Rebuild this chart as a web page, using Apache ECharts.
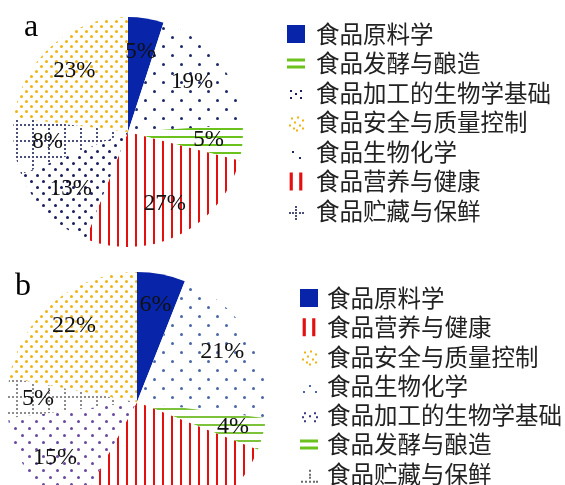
<!DOCTYPE html>
<html><head><meta charset="utf-8">
<script src="https://cdn.jsdelivr.net/npm/echarts@6/dist/echarts.min.js"></script>
<style>html,body{margin:0;padding:0;background:#fff}#c{width:565px;height:485px}</style>
</head><body><div id="c"></div>
<script>
// ---- data ----
const categories = ['食品原料学','食品生物化学','食品发酵与酿造','食品营养与健康','食品加工的生物学基础','食品贮藏与保鲜','食品安全与质量控制'];
const valuesA = [5, 19, 5, 27, 13, 8, 23];
const valuesB = [6, 21, 4, 27, 15, 5, 22];
const legendOrderA = ['食品原料学','食品发酵与酿造','食品加工的生物学基础','食品安全与质量控制','食品生物化学','食品营养与健康','食品贮藏与保鲜'];
const legendOrderB = ['食品原料学','食品营养与健康','食品安全与质量控制','食品生物化学','食品加工的生物学基础','食品发酵与酿造','食品贮藏与保鲜'];
const panelLabels = ['a', 'b'];

// ---- styles ----
function dots(color, P, Q, s) {
  s = s || 3;
  return {symbol: 'circle', symbolSize: 1, symbolKeepAspect: false, color: color,
    dashArrayX: [[s, P - s], [0, P / 2, s, P / 2 - s]], dashArrayY: [s, Q - s]};
}
function hStripes(color) {
  return {symbol: 'rect', symbolSize: 1, symbolKeepAspect: false, color: color, dashArrayX: [1, 0], dashArrayY: [2, 6]};
}
function vStripes(color) {
  return {symbol: 'rect', symbolSize: 1, symbolKeepAspect: false, color: color, dashArrayX: [2, 7], dashArrayY: [1, 0]};
}
function grid(color) {
  return {symbol: 'rect', symbolSize: 1, symbolKeepAspect: false, color: color,
    dashArrayX: [[2, 2], [2, 14], [2, 14], [2, 14]], dashArrayY: [2, 2]};
}
const BLUE = '#0824a8', GREEN = '#6cc21c', RED = '#e41010', YELLOW = '#f0b410';
const styleA = {
  '食品原料学': {color: BLUE},
  '食品生物化学': {color: '#fff', decal: dots('#1c2a6a', 18, 9)},
  '食品发酵与酿造': {color: '#fff', decal: hStripes(GREEN)},
  '食品营养与健康': {color: '#fff', decal: vStripes(RED)},
  '食品加工的生物学基础': {color: '#fff', decal: dots('#1a1e5c', 12, 6)},
  '食品贮藏与保鲜': {color: '#fff', decal: grid('#4a4e78')},
  '食品安全与质量控制': {color: '#fff', decal: dots(YELLOW, 10, 5)}
};
const styleB = {
  '食品原料学': {color: BLUE},
  '食品生物化学': {color: '#fff', decal: dots('#4a68a8', 18, 9)},
  '食品发酵与酿造': {color: '#fff', decal: hStripes('#7cc23a')},
  '食品营养与健康': {color: '#fff', decal: vStripes(RED)},
  '食品加工的生物学基础': {color: '#fff', decal: dots('#6a48a0', 14, 7)},
  '食品贮藏与保鲜': {color: '#fff', decal: grid('#8c8c8c')},
  '食品安全与质量控制': {color: '#fff', decal: dots(YELLOW, 10, 5)}
};
function dotPath(pts) {
  return 'path://M0,0M18,18' + pts.map(p => 'M' + p[0] + ',' + p[1] + 'h2v2h-2z').join('');
}
const iconA = {
  '食品原料学': {icon: 'rect', color: BLUE},
  '食品发酵与酿造': {icon: 'path://M0,4H18V7H0ZM0,11H18V14H0Z', color: GREEN},
  '食品加工的生物学基础': {icon: dotPath([[3,6],[13,6],[8,9],[3,13],[13,13]]), color: '#1a1e5c'},
  '食品安全与质量控制': {icon: dotPath([[4,4],[10,3],[15,6],[7,8],[2,11],[12,11],[6,14],[15,14],[9,16]]), color: YELLOW},
  '食品生物化学': {icon: dotPath([[5,8],[12,14]]), color: '#1c2a6a'},
  '食品营养与健康': {icon: 'path://M3,0H6V17H3ZM12,0H15V17H12Z', color: RED},
  '食品贮藏与保鲜': {icon: dotPath([[2,10],[5,10],[8,4],[8,7],[8,10],[8,13],[8,16],[12,10],[15,10]]), color: '#4a4e78'}
};
const iconB = {
  '食品原料学': {icon: 'rect', color: BLUE},
  '食品营养与健康': {icon: 'path://M3,0H6V17H3ZM12,0H15V17H12Z', color: RED},
  '食品安全与质量控制': {icon: dotPath([[4,4],[10,3],[15,6],[7,8],[2,11],[12,11],[6,14],[15,14],[9,16]]), color: YELLOW},
  '食品生物化学': {icon: dotPath([[3,14],[9,8],[15,14]]), color: '#4a68a8'},
  '食品加工的生物学基础': {icon: dotPath([[4,6],[14,6],[2,10],[16,10],[4,14],[14,14],[9,9]]), color: '#3a3a80'},
  '食品发酵与酿造': {icon: 'path://M0,4H18V7H0ZM0,11H18V14H0Z', color: GREEN},
  '食品贮藏与保鲜': {icon: dotPath([[1,16],[5,16],[9,16],[13,16],[16,16],[9,5],[9,9],[9,12]]), color: '#6a6a6a'}
};

function pieData(values, styles) {
  return categories.map((name, i) => ({name: name, value: values[i], itemStyle: Object.assign({borderWidth: 0}, styles[name])}));
}
function labelData(values) {
  return categories.map((name, i) => ({name: name, value: values[i]}));
}
function legendData(order, icons) {
  return order.map(name => ({name: name, icon: icons[name].icon,
    itemStyle: {color: icons[name].color, borderWidth: 0, decal: 'none'}}));
}
const labelStyle = {show: true, position: 'inside', formatter: '{c}%', color: '#111',
  fontFamily: '"Liberation Serif", "Times New Roman", serif', fontSize: 23};
const legendText = {fontFamily: '"Noto Sans CJK SC", sans-serif', fontSize: 23.5, color: '#222', lineHeight: 24};

const pies = [
  {center: [128, 132], r: 115, r0Label: 41, values: valuesA, styles: styleA, fs: 23},
  {center: [137, 402], r: 130, r0Label: 62, values: valuesB, styles: styleB, fs: 24}
];
const series = [];
pies.forEach(p => {
  series.push({type: 'pie', center: p.center, radius: [0, p.r], startAngle: 90, clockwise: true,
    data: pieData(p.values, p.styles), label: {show: false}, labelLine: {show: false},
    emphasis: {disabled: true}, silent: true, animation: false, avoidLabelOverlap: false});
  series.push({type: 'pie', center: p.center, radius: [p.r0Label, p.r], startAngle: 90, clockwise: true,
    data: labelData(p.values), itemStyle: {color: 'rgba(0,0,0,0)', borderWidth: 0},
    label: Object.assign({}, labelStyle, {fontSize: p.fs}), labelLine: {show: false},
    emphasis: {disabled: true}, silent: true, animation: false, avoidLabelOverlap: false, z: 5});
});

const chart = echarts.init(document.getElementById('c'), null, {renderer: 'canvas'});
chart.setOption({
  backgroundColor: '#fff',
  animation: false,
  legend: [
    {orient: 'vertical', left: 287, top: 22, height: 240, padding: 0, itemWidth: 18, itemHeight: 18, itemGap: 5.5,
      selectedMode: false, data: legendData(legendOrderA, iconA),
      textStyle: Object.assign({}, legendText, {padding: [0, 0, 0, 6]})},
    {orient: 'vertical', left: 300, top: 286, height: 240, padding: 0, itemWidth: 18, itemHeight: 18, itemGap: 5.3,
      selectedMode: false, data: legendData(legendOrderB, iconB),
      textStyle: Object.assign({}, legendText, {padding: [0, 0, 0, 4]})}
  ],
  graphic: [
    {type: 'text', x: 24, y: 28, style: {text: panelLabels[0], font: '32px "Liberation Serif"', fill: '#000', verticalAlign: 'middle'}},
    {type: 'text', x: 15, y: 287, style: {text: panelLabels[1], font: '32px "Liberation Serif"', fill: '#000', verticalAlign: 'middle'}}
  ],
  series: series
});
</script>
</body></html>
